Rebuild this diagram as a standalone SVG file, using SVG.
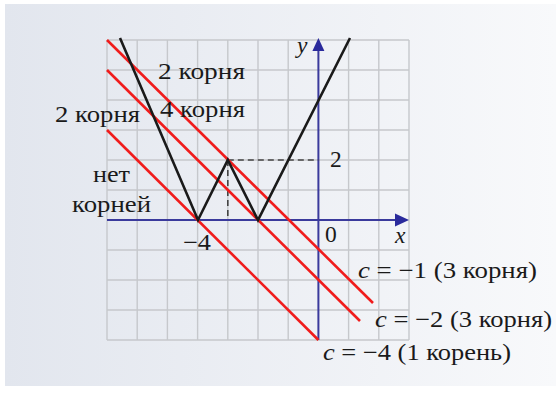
<svg xmlns="http://www.w3.org/2000/svg" width="556" height="396" viewBox="0 0 556 396">
<defs>
<linearGradient id="bg" x1="0" y1="0" x2="1" y2="0">
<stop offset="0" stop-color="#e2e6ee"/>
<stop offset="1" stop-color="#f8f9fb"/>
</linearGradient>
<style>
.grid{stroke:#c6c8cc;stroke-width:1.4;fill:none}
.ax{stroke:#3a3a9c;stroke-width:2;fill:none}
.arr{fill:#2a2a9c}
.red{stroke:#f01c1c;stroke-width:2.6;fill:none}
.blk{stroke:#1a1a1a;stroke-width:2.6;fill:none;stroke-linejoin:miter}
.dash{stroke:#444;stroke-width:1.6;stroke-dasharray:6 4;fill:none}
text{font-family:"Liberation Serif","DejaVu Serif",serif;font-size:23.5px;fill:#1a1a1a}
.it{font-style:italic}
</style>
</defs>
<rect x="5" y="4" width="551" height="382" fill="url(#bg)"/>
<g id="grid">
<path class="grid" d="M107 40V340M137.2 40V340M167.4 40V340M197.6 40V340M227.8 40V340M258 40V340M288.2 40V340M348.6 40V340M378.8 40V340M409 40V340M107 40H409M107 70H409M107 100H409M107 130H409M107 160H409M107 190H409M107 250H409M107 280H409M107 310H409M107 340H409"/>
</g>
<g id="axes">
<path class="ax" d="M107 220H396M318.4 340V50"/>
<polygon class="arr" points="409,220 395,213.5 395,226.5"/>
<polygon class="arr" points="318.4,38 312.4,51 324.4,51"/>
</g>
<g id="connectors">
<path class="dash" d="M227.8 160H318.4M227.8 160V220"/>
<path class="red" d="M107 40L373 303"/>
<path class="red" d="M107 70L360 321"/>
<path class="red" d="M107 130L318.4 340"/>
<polyline class="blk" points="120,38 198,220 227.8,160 258,220 350,38"/>
</g>
<g id="labels">
<text x="158" y="79" textLength="87" lengthAdjust="spacingAndGlyphs">2 корня</text>
<text x="160" y="117" textLength="85" lengthAdjust="spacingAndGlyphs">4 корня</text>
<text x="55" y="122" textLength="85" lengthAdjust="spacingAndGlyphs">2 корня</text>
<text x="93" y="182" textLength="37" lengthAdjust="spacingAndGlyphs">нет</text>
<text x="72" y="212" textLength="79" lengthAdjust="spacingAndGlyphs">корней</text>
<text x="183" y="250" textLength="28" lengthAdjust="spacingAndGlyphs">−4</text>
<text x="325" y="242">0</text>
<text x="395" y="243" class="it">x</text>
<text x="297" y="53" class="it">y</text>
<text x="330" y="167">2</text>
<text x="358" y="278" textLength="179" lengthAdjust="spacingAndGlyphs"><tspan class="it">c</tspan> = −1 (3 корня)</text>
<text x="375" y="327" textLength="177" lengthAdjust="spacingAndGlyphs"><tspan class="it">c</tspan> = −2 (3 корня)</text>
<text x="323" y="360" textLength="188" lengthAdjust="spacingAndGlyphs"><tspan class="it">c</tspan> = −4 (1 корень)</text>
</g>
</svg>
